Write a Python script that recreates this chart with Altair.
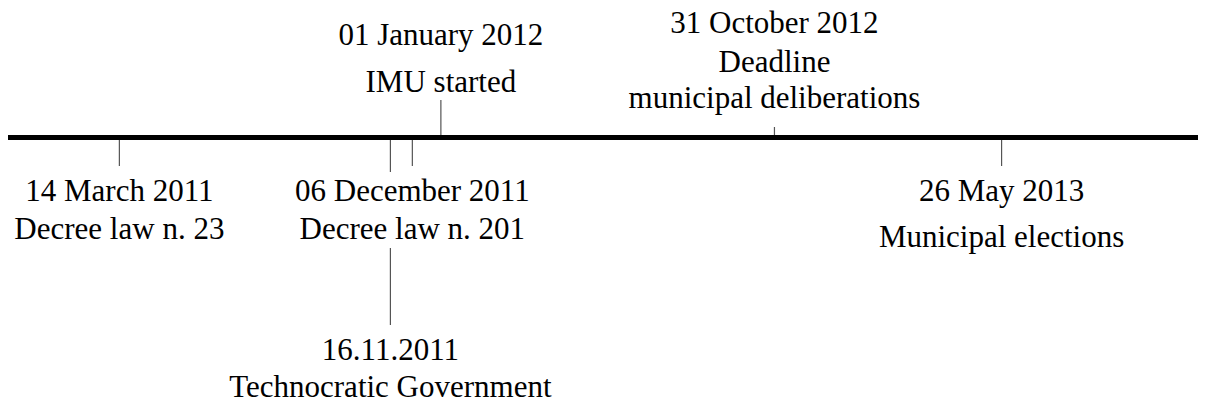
import altair as alt
import pandas as pd

# ---- data -------------------------------------------------------------
event_dates = ["2011-03-14", "2011-11-16", "2011-12-06", "2012-01-01", "2012-10-31", "2013-05-26"]
event_titles = ["14 March 2011", "16.11.2011", "06 December 2011",
                "01 January 2012", "31 October 2012", "26 May 2013"]
event_descriptions = [
    ["Decree law n. 23"],
    ["Technocratic Government"],
    ["Decree law n. 201"],
    ["IMU started"],
    ["Deadline", "municipal deliberations"],
    ["Municipal elections"],
]
timeline_span = ["2010-12-02T12:00:00Z", "2013-11-21T00:00:00Z"]

# ---- layout (offsets above(+)/below(-) the timeline, in px) -------------
tick_segments = [
    [(0, -28.5)],
    [(0, -34.5), (-110.5, -187.5)],
    [(0, -28.5)],
    [(0, 37.5)],
    [(0, 10.5)],
    [(0, -28.5)],
]
label_baselines = [
    [-63.5, -101.5],
    [-222.5, -259.5],
    [-63.5, -101.5],
    [92.5, 45.5],
    [104.5, 65.5, 29.5],
    [-63.5, -109.5],
]

W, H = 1190, 395
Y_DOMAIN = [-265.5, 129.5]

# ---- tables -------------------------------------------------------------
tick_rows = []
for d, segs in zip(event_dates, tick_segments):
    for a, b in segs:
        tick_rows.append({"date": d, "y": a, "y2": b})
ticks_df = pd.DataFrame(tick_rows)

label_rows = []
for d, title, desc, ys in zip(event_dates, event_titles, event_descriptions, label_baselines):
    lines = [title] + desc
    for txt, yy in zip(lines, ys):
        label_rows.append({"date": d, "text": txt, "y": yy})
labels_df = pd.DataFrame(label_rows)

line_df = pd.DataFrame([{"date": timeline_span[0], "date2": timeline_span[1], "y": 0}])

x_scale = alt.Scale(type="utc",
                    domain=[alt.DateTime(year=2010, month=12, date=2, hours=12, utc=True),
                            alt.DateTime(year=2013, month=11, date=21, utc=True)])
y_scale = alt.Scale(domain=Y_DOMAIN, nice=False, zero=False)

main_line = alt.Chart(line_df).mark_rule(color="black", strokeWidth=5, strokeCap="butt").encode(
    x=alt.X("date:T", scale=x_scale, axis=None),
    x2="date2:T",
    y=alt.Y("y:Q", scale=y_scale, axis=None),
)

ticks = alt.Chart(ticks_df).mark_rule(color="#555555", strokeWidth=1.2).encode(
    x=alt.X("date:T", scale=x_scale, axis=None),
    y=alt.Y("y:Q", scale=y_scale, axis=None),
    y2="y2:Q",
)

labels = alt.Chart(labels_df).mark_text(
    font="Liberation Serif", fontSize=31, color="black",
    align="center", baseline="alphabetic",
).encode(
    x=alt.X("date:T", scale=x_scale, axis=None),
    y=alt.Y("y:Q", scale=y_scale, axis=None),
    text="text:N",
)

chart = alt.layer(ticks, main_line, labels).properties(
    width=W, height=H, autosize="none", padding=0,
).configure_view(stroke=None)

chart.save("out.html", embed_options={"renderer": "svg", "actions": False})
